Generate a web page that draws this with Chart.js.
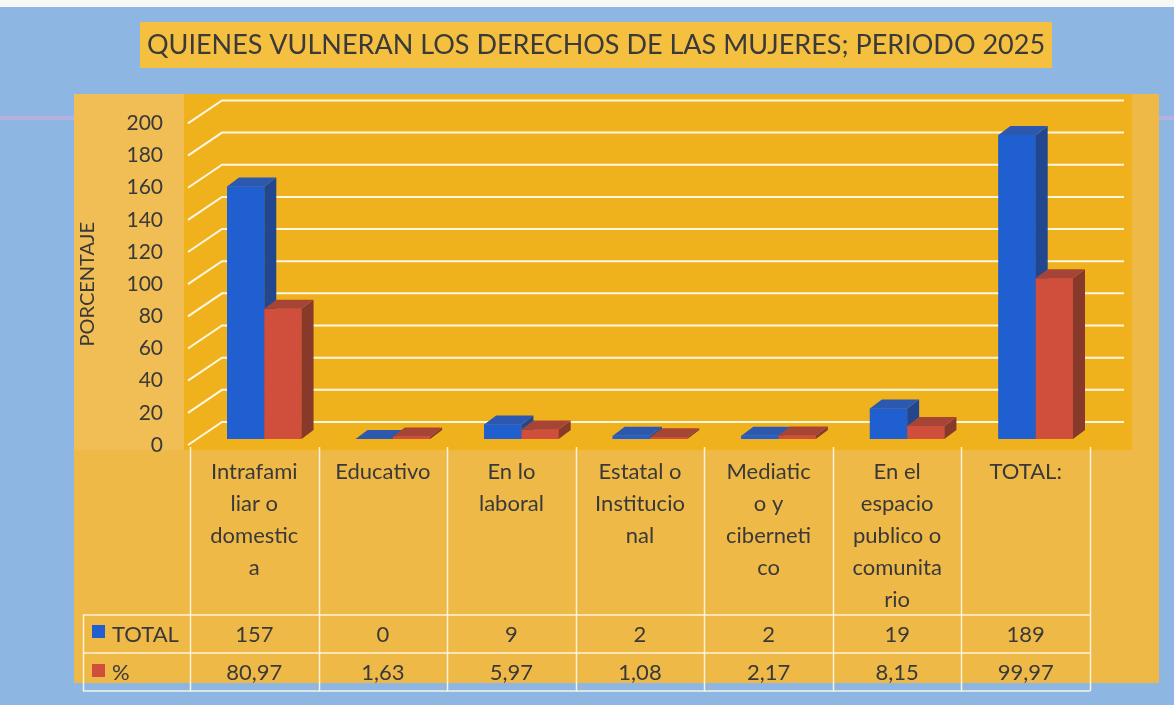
<!DOCTYPE html>
<html>
<head>
<meta charset="utf-8">
<title>Quienes vulneran los derechos de las mujeres</title>
<script src="https://cdn.jsdelivr.net/npm/chart.js@4.4.1/dist/chart.umd.min.js"></script>
<style>
html, body { margin: 0; padding: 0; background: #8db7e2; }
canvas { display: block; }
</style>
</head>
<body>
<canvas id="myChart" width="1174" height="705"></canvas>
<script>
// datos
var categorias = [
  ["Intrafami", "liar o", "domestic", "a"],
  ["Educativo"],
  ["En lo", "laboral"],
  ["Estatal o", "Institucio", "nal"],
  ["Mediatic", "o y", "ciberneti", "co"],
  ["En el", "espacio", "publico o", "comunita", "rio"],
  ["TOTAL:"]
];
var totales = [157, 0, 9, 2, 2, 19, 189];
var porcentajes = [80.97, 1.63, 5.97, 1.08, 2.17, 8.15, 99.97];
var ticksY = [0, 20, 40, 60, 80, 100, 120, 140, 160, 180, 200];

var FONT = 'Lato';
var TEXTO = '#393939';
var PARED = { x: 32, y: -23 };     // fondo 3D
var BARRA = { x: 12, y: -9 };      // profundidad de cada columna
var DESPL = { x: 10, y: -6 };      // las columnas estan a media profundidad

var caras = [
  { side: '#22478f', top: '#2d58b0' },
  { side: '#87392a', top: '#a64535' }
];

function coma(v) { return v.toFixed(2).replace('.', ','); }

function caras3d(c, bar, col) {
  var p = bar.getProps(['x', 'y', 'base', 'width'], true);
  var l = p.x - p.width / 2, r = p.x + p.width / 2, t = p.y, b = p.base;
  c.fillStyle = col.side;
  c.beginPath();
  c.moveTo(r, t); c.lineTo(r + BARRA.x, t + BARRA.y);
  c.lineTo(r + BARRA.x, b + BARRA.y); c.lineTo(r, b);
  c.closePath(); c.fill();
  c.fillStyle = col.top;
  c.beginPath();
  c.moveTo(l, t); c.lineTo(l + BARRA.x, t + BARRA.y);
  c.lineTo(r + BARRA.x, t + BARRA.y); c.lineTo(r, t);
  c.closePath(); c.fill();
}

var fondo = {
  id: 'fondo',
  afterLayout: function (chart) {
    // la caja del titulo no esta centrada en el lienzo
    chart.titleBlock.left = 140;
    chart.titleBlock.right = 1052;
  },
  beforeDraw: function (chart) {
    var c = chart.ctx, a = chart.chartArea, t = chart.titleBlock;
    c.save();
    c.fillStyle = '#8db7e2';
    c.fillRect(0, 0, chart.width, chart.height);
    c.fillStyle = '#f7f8f6';
    c.fillRect(0, 0, chart.width, 7);
    c.fillStyle = 'rgba(214,172,222,0.55)';
    c.fillRect(0, 116, chart.width, 4);
    // caja del titulo
    c.fillStyle = '#f5bf3f';
    c.fillRect(t.left, 22, t.right - t.left, 46);
    // area del grafico
    c.fillStyle = '#efb948';
    c.fillRect(74, 94, 1085, 589);
    c.fillStyle = '#f1bd55';
    c.fillRect(74, 94, a.left - 80, a.bottom + 5 - 94);
    c.fillStyle = '#f0b21c';
    c.fillRect(a.left - 6, 94, a.width + PARED.x + 16, a.bottom + 5 - 94);
    c.restore();
  },
  beforeDatasetsDraw: function (chart) {
    var c = chart.ctx, a = chart.chartArea, y = chart.scales.y;
    c.save();
    c.strokeStyle = 'rgba(255,250,236,0.95)';
    c.lineWidth = 2;
    ticksY.forEach(function (v) {
      var py = y.getPixelForValue(v);
      c.beginPath();
      c.moveTo(a.left - 2, py);
      c.lineTo(a.left + PARED.x, py + PARED.y);
      c.lineTo(a.right + PARED.x + 2, py + PARED.y);
      c.stroke();
    });
    c.restore();
    c.save();
    c.translate(DESPL.x, DESPL.y);
  },
  afterDatasetsDraw: function (chart) {
    var c = chart.ctx;
    // primero las columnas azules, luego las rojas delante de sus caras laterales
    [0, 1].forEach(function (i) {
      chart.getDatasetMeta(i).data.forEach(function (bar) {
        bar.draw(c);
        caras3d(c, bar, caras[i]);
      });
    });
    c.restore();
  },
  afterDraw: function (chart) {
    // tabla de datos bajo el eje
    var c = chart.ctx, a = chart.chartArea, x = chart.scales.x;
    var ancho = a.width / categorias.length;
    var fila1 = 615, fila2 = 653, fin = 691;
    c.save();
    c.strokeStyle = 'rgba(255,248,230,0.9)';
    c.lineWidth = 1.5;
    for (var k = 0; k <= categorias.length; k++) {
      var px = Math.round(a.left + k * ancho) + 0.5;
      c.beginPath(); c.moveTo(px, a.bottom + 2); c.lineTo(px, fin); c.stroke();
    }
    c.beginPath(); c.moveTo(83.5, fila1); c.lineTo(83.5, fin); c.stroke();
    [fila1, fila2, fin].forEach(function (fy) {
      c.beginPath(); c.moveTo(83, fy); c.lineTo(a.right, fy); c.stroke();
    });
    c.font = '22px ' + FONT;
    c.fillStyle = TEXTO;
    c.textAlign = 'center';
    c.textBaseline = 'middle';
    categorias.forEach(function (cat, i) {
      var cx = x.getPixelForValue(i);
      c.fillText(String(totales[i]), cx, (fila1 + fila2) / 2 + 1);
      c.fillText(coma(porcentajes[i]), cx, (fila2 + fin) / 2 + 1);
    });
    c.textAlign = 'left';
    c.fillStyle = '#1f5fd0';
    c.fillRect(92, 625, 13, 13);
    c.fillStyle = '#cf4f3c';
    c.fillRect(92, 664, 13, 13);
    c.fillStyle = TEXTO;
    c.fillText('TOTAL', 112, (fila1 + fila2) / 2 + 1);
    c.fillText('%', 112, (fila2 + fin) / 2 + 1);
    c.restore();
  }
};

Chart.defaults.font.family = FONT;
Chart.defaults.color = TEXTO;

var ctx = document.getElementById('myChart').getContext('2d');
var myChart = new Chart(ctx, {
  type: 'bar',
  data: {
    labels: categorias,
    datasets: [{
      label: 'TOTAL',
      data: totales,
      backgroundColor: '#1f5fd0'
    }, {
      label: '%',
      data: porcentajes,
      backgroundColor: '#cf4f3c'
    }]
  },
  options: {
    responsive: false,
    animation: false,
    layout: { padding: { left: 70, right: 84, bottom: 15, top: 0 } },
    datasets: { bar: { categoryPercentage: 0.58, barPercentage: 1 } },
    plugins: {
      legend: { display: false },
      tooltip: { enabled: false },
      title: {
        display: true,
        text: 'QUIENES VULNERAN LOS DERECHOS DE LAS MUJERES; PERIODO 2025',
        color: '#3a3a3a',
        font: { size: 27, weight: 'normal' },
        padding: { top: 29, bottom: 62 }
      }
    },
    scales: {
      x: {
        grid: { display: false },
        border: { display: false },
        ticks: {
          autoSkip: false, maxRotation: 0, padding: 3,
          font: { size: 22, lineHeight: 1.45 }, color: TEXTO
        },
        afterFit: function (s) { s.height = 245; }
      },
      y: {
        min: 0, max: 200,
        grid: { display: false },
        border: { display: false },
        ticks: { stepSize: 20, padding: 19, font: { size: 21 }, color: TEXTO },
        title: {
          display: true, text: 'PORCENTAJE', color: TEXTO,
          font: { size: 20 }, padding: { top: 6 }
        },
        afterFit: function (s) { s.width = 120; }
      }
    }
  },
  plugins: [fondo]
});
</script>
</body>
</html>
